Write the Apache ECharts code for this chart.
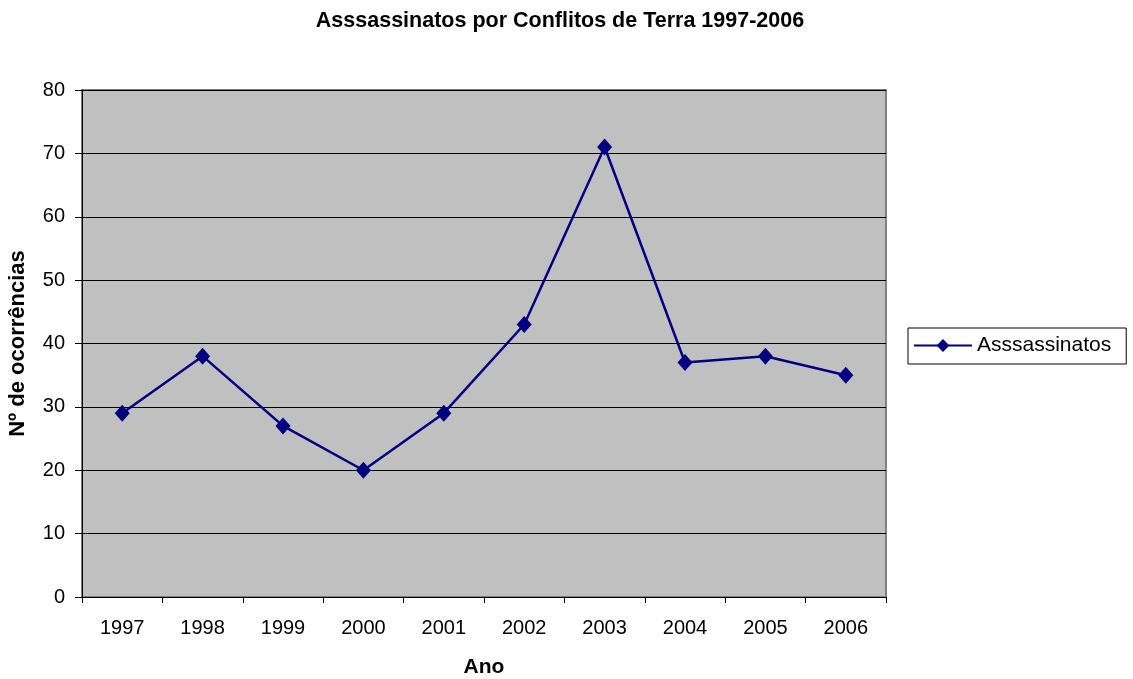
<!DOCTYPE html>
<html>
<head>
<meta charset="utf-8">
<script src="https://cdn.jsdelivr.net/npm/echarts@6/dist/echarts.min.js"></script>
<style>
html,body{margin:0;padding:0;background:#fff;}
#c{width:1133px;height:679px;}
</style>
</head>
<body>
<div id="c"></div>
<script>
const years = ['1997','1998','1999','2000','2001','2002','2003','2004','2005','2006'];
const assassinatos = [29, 38, 27, 20, 29, 43, 71, 37, 38, 35];
const seriesName = 'Asssassinatos';
const titleText = 'Asssassinatos por Conflitos de Terra 1997-2006';

const chart = echarts.init(document.getElementById('c'), null, {renderer: 'canvas'});
const font = 'Arial, "Liberation Sans", sans-serif';
chart.setOption({
  animation: false,
  backgroundColor: '#ffffff',
  title: {
    text: titleText,
    left: 555, top: 5, textAlign: 'center',
    textStyle: {fontFamily: font, fontSize: 21.5, fontWeight: 'bold', color: '#000'}
  },
  legend: {
    left: 908, top: 328, width: 219,
    orient: 'vertical',
    itemWidth: 58, itemHeight: 16,
    itemGap: 0,
    padding: [7, 15, 8, 5],
    borderColor: '#000', borderWidth: 1,
    backgroundColor: '#fff',
    textStyle: {fontFamily: font, fontSize: 21, color: '#000', padding: [0,0,0,0]},
    data: [seriesName]
  },
  grid: {
    left: 82, right: 247, top: 90, bottom: 82,
    outerBoundsMode: 'none',
    containLabel: false,
    show: true, backgroundColor: '#c0c0c0', borderColor: '#808080', borderWidth: 2
  },
  xAxis: {
    type: 'category',
    data: years,
    boundaryGap: true,
    name: 'Ano',
    nameLocation: 'middle',
    nameGap: 60,
    nameTextStyle: {fontFamily: font, fontSize: 21, fontWeight: 'bold', color: '#000'},
    axisLine: {lineStyle: {color: '#000', width: 1}},
    axisTick: {show: true, length: 6, lineStyle: {color: '#000'}},
    axisLabel: {fontFamily: font, fontSize: 20, color: '#000', margin: 21},
    splitLine: {show: false}
  },
  yAxis: {
    type: 'value',
    min: 0, max: 80, interval: 10,
    name: 'Nº de ocorrências',
    nameLocation: 'middle',
    nameGap: 53,
    nameTextStyle: {fontFamily: font, fontSize: 22, fontWeight: 'bold', color: '#000'},
    axisLine: {show: true, lineStyle: {color: '#000', width: 1}},
    axisTick: {show: true, length: 7, lineStyle: {color: '#000'}},
    axisLabel: {fontFamily: font, fontSize: 20, color: '#000', margin: 17},
    splitLine: {show: true, lineStyle: {color: '#000', width: 1}}
  },
  series: [{
    name: seriesName,
    type: 'line',
    data: assassinatos,
    symbol: 'diamond',
    symbolSize: [15, 17],
    lineStyle: {color: '#000080', width: 2.5},
    itemStyle: {color: '#000080'},
    z: 5
  }]
});
</script>
</body>
</html>
